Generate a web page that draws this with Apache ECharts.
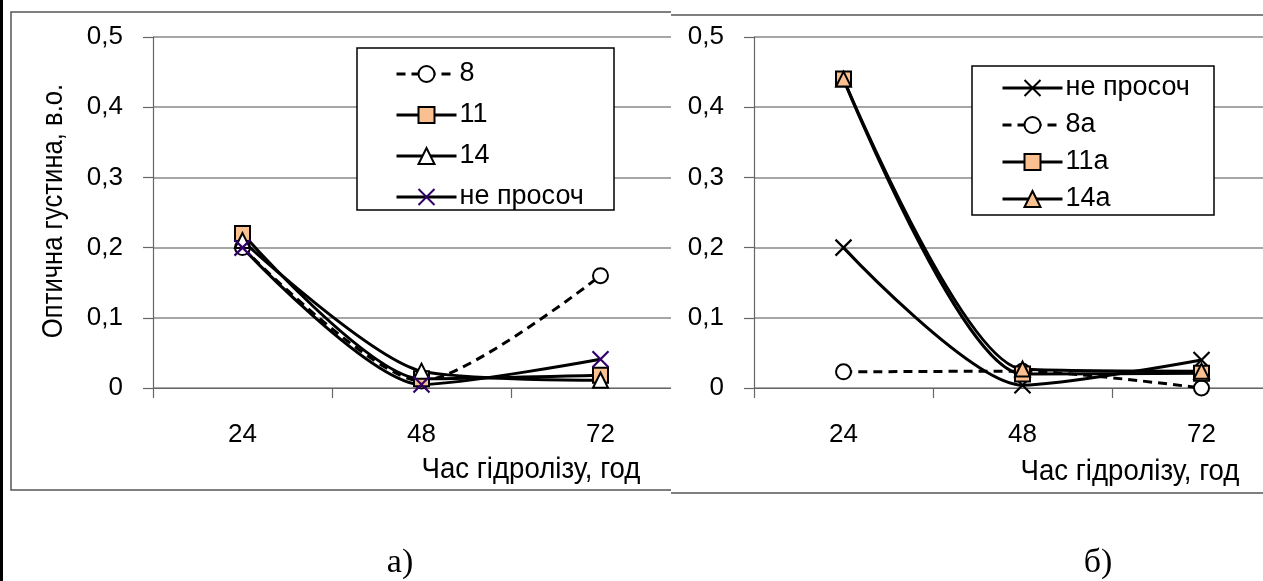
<!DOCTYPE html>
<html>
<head>
<meta charset="utf-8">
<script src="https://cdn.jsdelivr.net/npm/echarts@6/dist/echarts.min.js"></script>
<style>
html,body{margin:0;padding:0;background:#fff;width:1263px;height:581px;overflow:hidden;}
.wrap{position:absolute;top:0;height:581px;overflow:hidden;}
#wa{left:0;width:671px;}
#wb{left:671px;width:592px;}
#a{width:720px;height:581px;}
#b{width:640px;height:581px;}
</style>
</head>
<body>
<div id="wa" class="wrap"><div id="a"></div></div>
<div id="wb" class="wrap"><div id="b"></div></div>
<script>
// ---- data ----
const categories = ['24', '48', '72'];
const yMin = 0, yMax = 0.5, yStep = 0.1;

// panel а)
const namesA = ['8', '11', '14', 'не просоч'];
const s8 = [0.2, 0.01, 0.16];
const s11 = [0.22, 0.013, 0.018];
const s14 = [0.21, 0.024, 0.011];
const sNeA = [0.2, 0.005, 0.041];

// panel б)
const namesB = ['не просоч', '8а', '11а', '14а'];
const sNeB = [0.2, 0.004, 0.04];
const s8a = [0.023, 0.024, 0.0];
const s11a = [0.44, 0.02, 0.021];
const s14a = [0.44, 0.027, 0.024];

const xTitle = 'Час гідролізу, год';
const yTitle = 'Оптична густина, в.о.';

// ---- styling ----
const FONT = "'Liberation Sans', Arial, sans-serif";
const FS_AX = 26, FS_LEG = 27, FS_T = 29;
const PEACH = '#FAC08F';
const XPATH = 'path://M0,0L20,20M20,0L0,20';
const SMOOTH = 0.25;

function yFmt(v) { return v === 0 ? '0' : v.toFixed(1).replace('.', ','); }

function mkSeries(name, data, kind, opts) {
  opts = opts || {};
  const s = {
    name: name, type: 'line', data: data, smooth: SMOOTH,
    symbolSize: 15,
    lineStyle: { color: '#000', width: 3, type: opts.dashed ? [9, 6] : 'solid' },
    itemStyle: { color: '#fff', borderColor: '#000', borderWidth: 2 },
    emphasis: { disabled: true }
  };
  if (kind === 'circle') { s.symbol = 'circle'; }
  if (kind === 'square') { s.symbol = 'rect'; s.itemStyle.color = PEACH; }
  if (kind === 'triangle') { s.symbol = 'triangle'; s.itemStyle.color = opts.fill || '#fff'; }
  if (kind === 'x') {
    s.symbol = XPATH; s.symbolSize = 16;
    s.itemStyle = { color: 'none', borderColor: opts.xColor || '#000', borderWidth: 2.2 };
  }
  return s;
}

function axes(gridLeft) {
  return {
    grid: { left: gridLeft, top: 37, width: 537, height: 351 },
    xAxis: {
      type: 'category', data: categories, boundaryGap: true,
      axisLine: { lineStyle: { color: '#666', width: 1.2 } },
      axisTick: { show: true, length: 10, lineStyle: { color: '#666', width: 1.2 } },
      axisLabel: { fontFamily: FONT, fontSize: FS_AX, color: '#000', margin: 34 },
      splitLine: { show: false }
    },
    yAxis: {
      type: 'value', min: yMin, max: yMax, interval: yStep,
      axisLine: { show: true, lineStyle: { color: '#666', width: 1.2 } },
      axisTick: { show: true, length: 10, lineStyle: { color: '#666', width: 1.2 } },
      axisLabel: { fontFamily: FONT, fontSize: FS_AX, color: '#000', margin: 30, formatter: yFmt },
      splitLine: { show: true, lineStyle: { color: '#888', width: 1.5 } }
    }
  };
}

function legend(left, top, gap) {
  return {
    orient: 'vertical', left: left, top: top, itemWidth: 60, itemHeight: 20,
    itemGap: gap, selectedMode: false, z: 10,
    lineStyle: { width: 3 },
    textStyle: { fontFamily: FONT, fontSize: FS_LEG, color: '#000', lineHeight: 30, padding: [0, 0, 0, -2] }
  };
}

function txt(x, y, text, sx, rot) {
  return { type: 'text', z: 6, silent: true, x: x, y: y, scaleX: sx, rotation: rot || 0,
    style: { text: text, x: 0, y: 0, align: 'center', verticalAlign: 'middle', font: FS_T + 'px ' + FONT, fill: '#000' } };
}
function lbl(x, text) {
  return { type: 'text', z: 6, silent: true, x: x, y: 563,
    style: { text: text, x: 0, y: 0, align: 'center', verticalAlign: 'middle', font: "34px 'Liberation Serif', 'Times New Roman', serif", fill: '#000' } };
}

// ---- chart а) ----
const ca = echarts.init(document.getElementById('a'));
const ax = axes(153);
ca.setOption({
  animation: false,
  backgroundColor: '#fff',
  grid: ax.grid, xAxis: ax.xAxis, yAxis: ax.yAxis,
  legend: Object.assign(legend(390, 54, 11), { data: namesA }),
  series: [
    mkSeries(namesA[0], s8, 'circle', { dashed: true }),
    mkSeries(namesA[1], s11, 'square'),
    mkSeries(namesA[2], s14, 'triangle'),
    mkSeries(namesA[3], sNeA, 'x', { xColor: '#33006B' })
  ],
  graphic: [
    { type: 'rect', z: 0, silent: true, shape: { x: 0, y: 0, width: 3, height: 581 }, style: { fill: '#000' } },
    { type: 'rect', z: 0, silent: true, shape: { x: 11, y: 12, width: 740, height: 478 }, style: { fill: 'none', stroke: '#555', lineWidth: 1.5 } },
    { type: 'rect', z: 5, silent: true, shape: { x: 357, y: 48, width: 257, height: 162 }, style: { fill: '#fff', stroke: '#000', lineWidth: 1.5 } },
    txt(531, 470, xTitle, 0.952),
    txt(54, 211, yTitle, 0.884, Math.PI / 2),
    lbl(400, 'а)')
  ]
});

// ---- chart б) ----
const cb = echarts.init(document.getElementById('b'));
const bx = axes(83);
cb.setOption({
  animation: false,
  backgroundColor: '#fff',
  grid: bx.grid, xAxis: bx.xAxis, yAxis: bx.yAxis,
  legend: Object.assign(legend(325, 68, 7), { data: namesB }),
  series: [
    mkSeries(namesB[0], sNeB, 'x', { xColor: '#000' }),
    mkSeries(namesB[1], s8a, 'circle', { dashed: true }),
    mkSeries(namesB[2], s11a, 'square'),
    mkSeries(namesB[3], s14a, 'triangle', { fill: PEACH })
  ],
  graphic: [
    { type: 'line', z: 0, silent: true, shape: { x1: 0, y1: 15, x2: 640, y2: 15 }, style: { stroke: '#555', lineWidth: 1.5 } },
    { type: 'line', z: 0, silent: true, shape: { x1: 0, y1: 493, x2: 640, y2: 493 }, style: { stroke: '#555', lineWidth: 1.5 } },
    { type: 'rect', z: 5, silent: true, shape: { x: 301, y: 66, width: 242, height: 149 }, style: { fill: '#fff', stroke: '#000', lineWidth: 1.5 } },
    txt(459, 472, xTitle, 0.952),
    lbl(427, 'б)')
  ]
});
</script>
</body>
</html>
